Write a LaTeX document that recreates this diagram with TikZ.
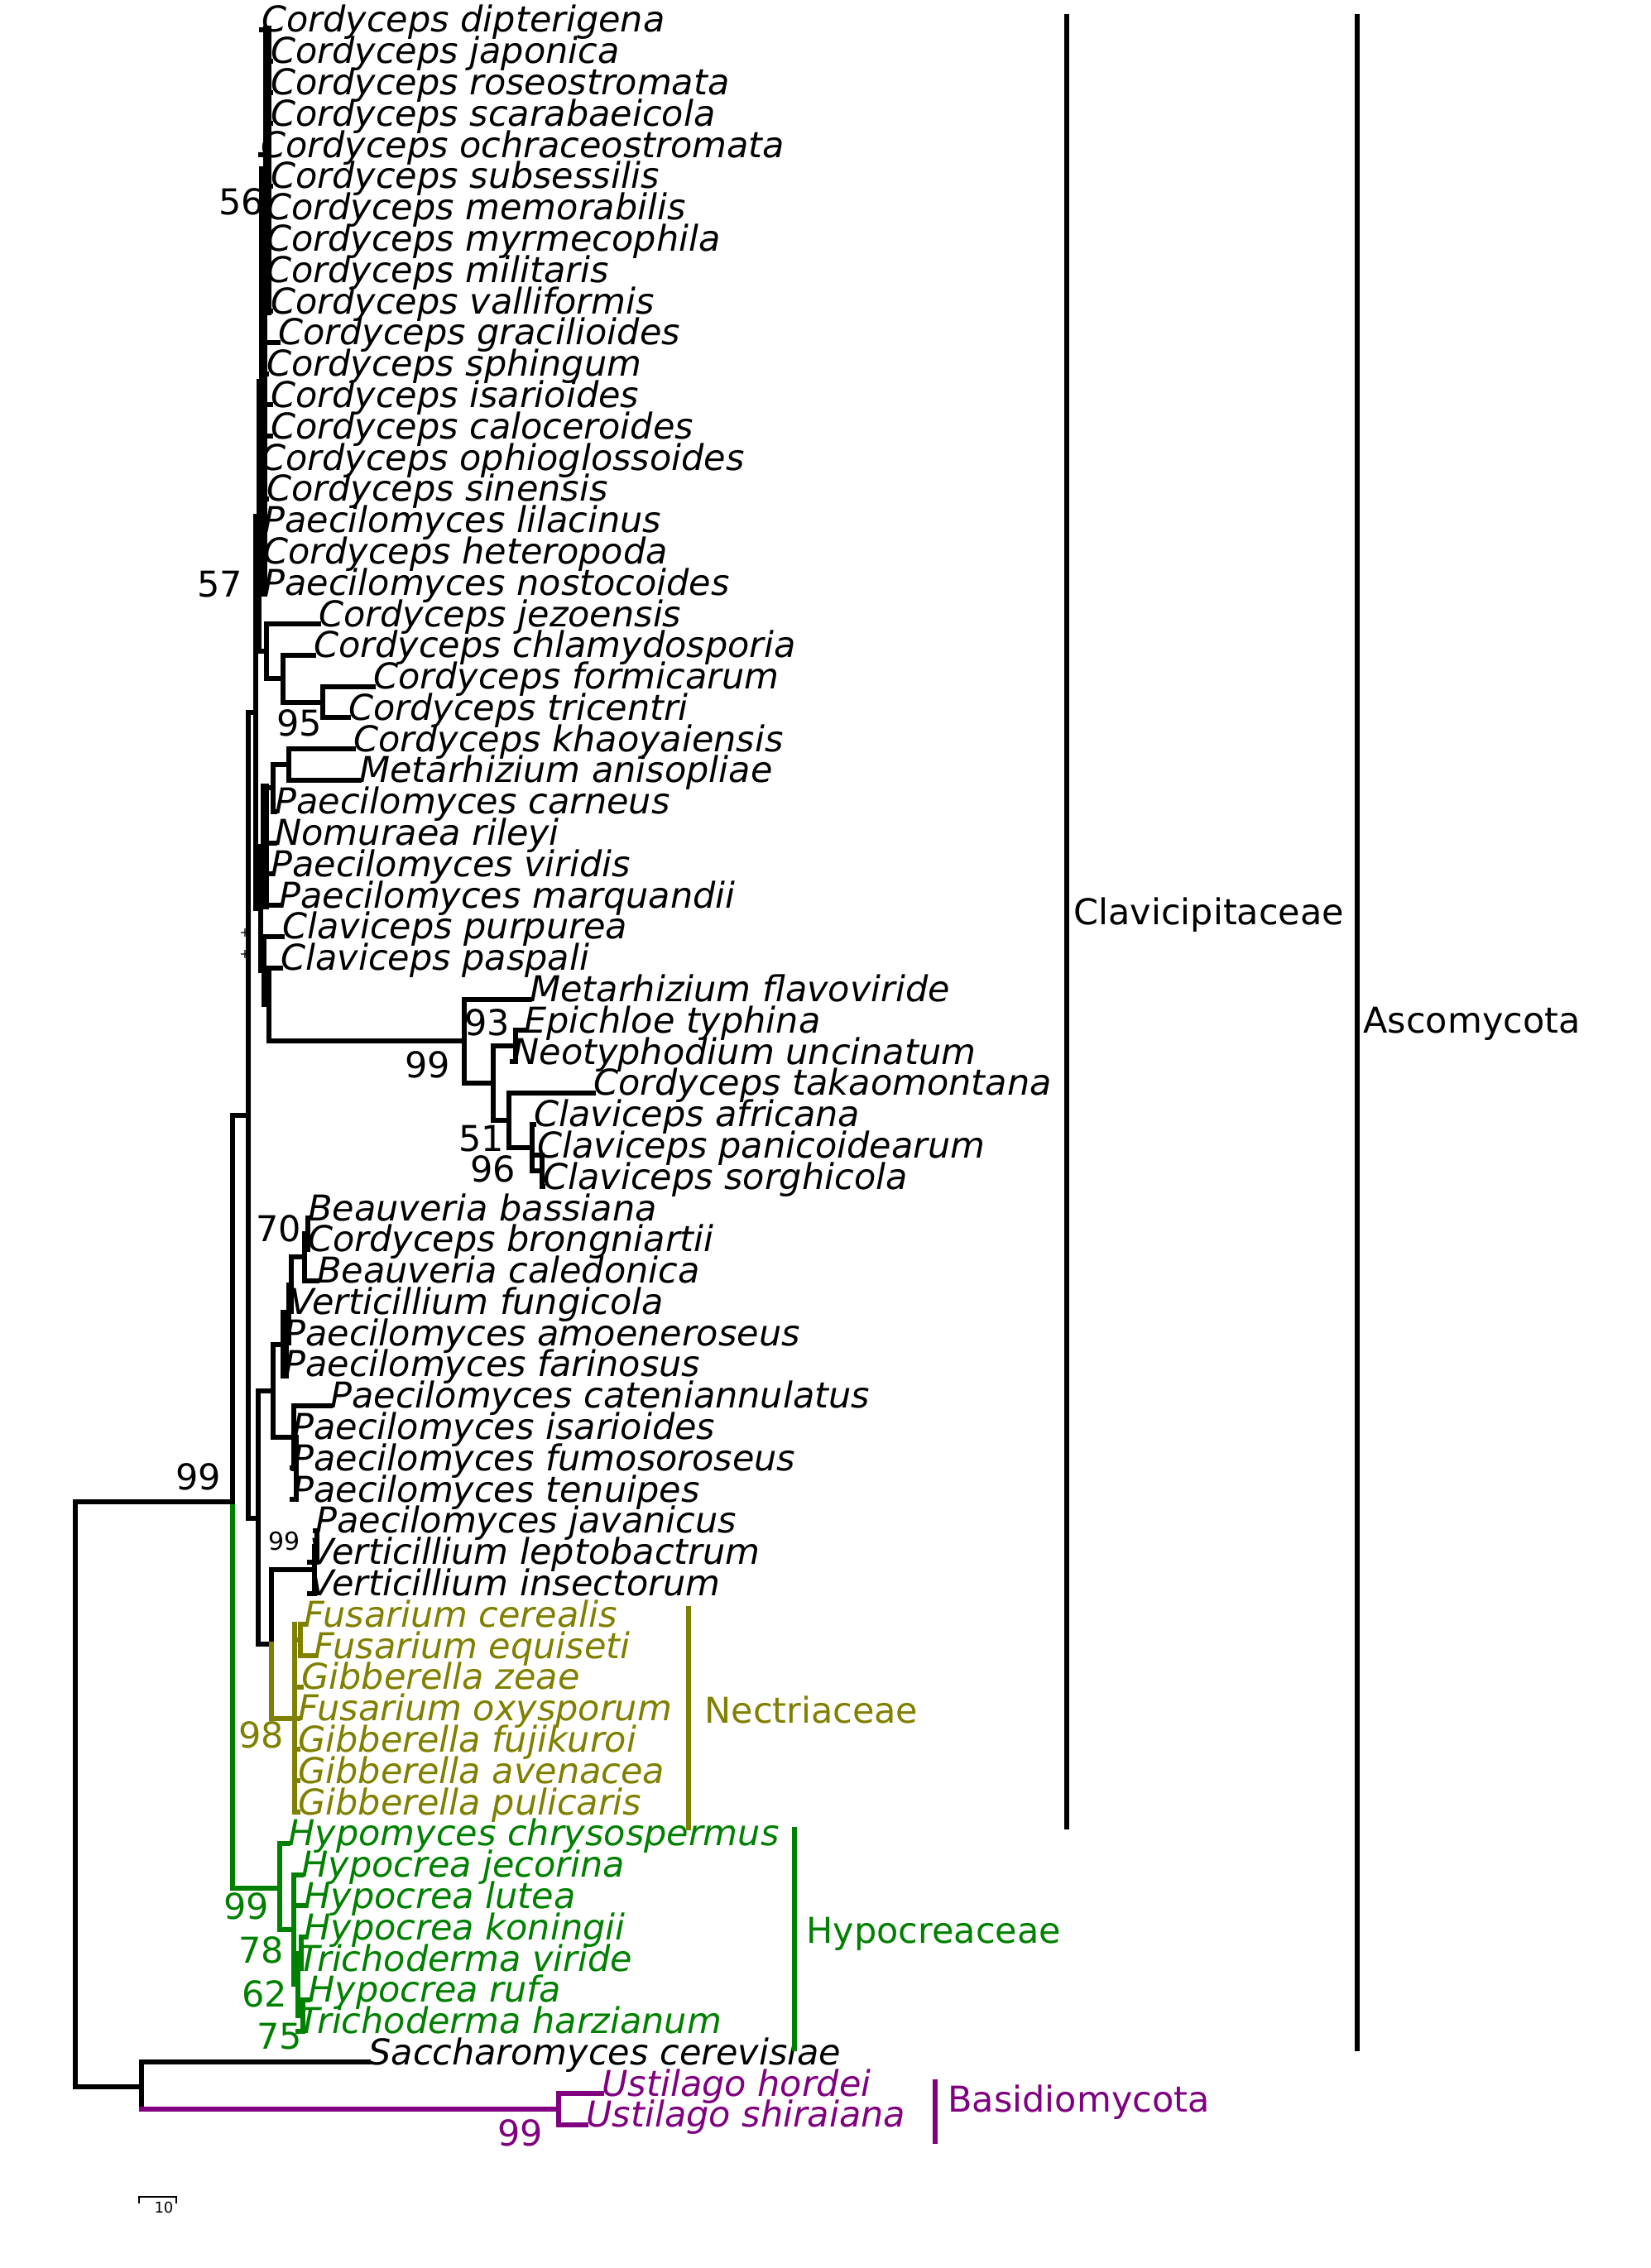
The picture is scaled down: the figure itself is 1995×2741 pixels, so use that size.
\documentclass[tikz,border=0pt]{standalone}
\usepackage{fontspec}
\setmainfont{DejaVu Sans}
\definecolor{olivec}{RGB}{128,128,0}
\definecolor{greenc}{RGB}{0,128,0}
\definecolor{purplec}{RGB}{128,0,128}
\newcommand{\edg}[3][black]{\draw[ln,#1] (#2 |- #3) -- (#3);}
\newcommand{\vln}[4][black]{\draw[ln,#1] (#2 |- #3) -- (#2 |- #4);}
\begin{document}
\begin{tikzpicture}[x=0.5pt,y=-0.5pt,
  ln/.style={line width=3pt,line cap=rect},
  heavy/.style={line width=5pt},
  brk/.style={line width=3.2pt},
  taxon/.style={anchor=base west,inner sep=0pt,font=\fontsize{21.5}{24}\selectfont\itshape,yshift=-1.5pt},
  boot/.style={inner sep=0pt,font=\fontsize{21.5}{24}\selectfont},
  smallboot/.style={inner sep=0pt,font=\fontsize{15}{16}\selectfont},
  clade/.style={anchor=base west,inner sep=0pt,font=\fontsize{21.5}{24}\selectfont}]
\useasboundingbox[fill=white] (0,0) rectangle (1995,2741);

% ---------- leaves ----------
\foreach \i/\tx/\nm/\cl in {
1/316/Cordyceps dipterigena/black,
2/327/Cordyceps japonica/black,
3/327/Cordyceps roseostromata/black,
4/327/Cordyceps scarabaeicola/black,
5/315/Cordyceps ochraceostromata/black,
6/327/Cordyceps subsessilis/black,
7/322/Cordyceps memorabilis/black,
8/322/Cordyceps myrmecophila/black,
9/322/Cordyceps militaris/black,
10/327/Cordyceps valliformis/black,
11/336/Cordyceps gracilioides/black,
12/322/Cordyceps sphingum/black,
13/327/Cordyceps isarioides/black,
14/327/Cordyceps caloceroides/black,
15/315/Cordyceps ophioglossoides/black,
16/322/Cordyceps sinensis/black,
17/318/Paecilomyces lilacinus/black,
18/318/Cordyceps heteropoda/black,
19/318/Paecilomyces nostocoides/black,
20/385/Cordyceps jezoensis/black,
21/379/Cordyceps chlamydosporia/black,
22/451/Cordyceps formicarum/black,
23/421/Cordyceps tricentri/black,
24/427/Cordyceps khaoyaiensis/black,
25/434/Metarhizium anisopliae/black,
26/332/Paecilomyces carneus/black,
27/332/Nomuraea rileyi/black,
28/327/Paecilomyces viridis/black,
29/337/Paecilomyces marquandii/black,
30/341/Claviceps purpurea/black,
31/339/Claviceps paspali/black,
32/640/Metarhizium flavoviride/black,
33/633/Epichloe typhina/black,
34/619/Neotyphodium uncinatum/black,
35/717/Cordyceps takaomontana/black,
36/645/Claviceps africana/black,
37/649/Claviceps panicoidearum/black,
38/656/Claviceps sorghicola/black,
39/372/Beauveria bassiana/black,
40/372/Cordyceps brongniartii/black,
41/383/Beauveria caledonica/black,
42/350/Verticillium fungicola/black,
43/343/Paecilomyces amoeneroseus/black,
44/343/Paecilomyces farinosus/black,
45/399/Paecilomyces cateniannulatus/black,
46/353/Paecilomyces isarioides/black,
47/353/Paecilomyces fumosoroseus/black,
48/353/Paecilomyces tenuipes/black,
49/381/Paecilomyces javanicus/black,
50/374/Verticillium leptobactrum/black,
51/374/Verticillium insectorum/black,
52/367/Fusarium cerealis/olivec,
53/379/Fusarium equiseti/olivec,
54/364/Gibberella zeae/olivec,
55/360/Fusarium oxysporum/olivec,
56/360/Gibberella fujikuroi/olivec,
57/360/Gibberella avenacea/olivec,
58/360/Gibberella pulicaris/olivec,
59/348/Hypomyces chrysospermus/greenc,
60/364/Hypocrea jecorina/greenc,
61/367/Hypocrea lutea/greenc,
62/367/Hypocrea koningii/greenc,
63/360/Trichoderma viride/greenc,
64/372/Hypocrea rufa/greenc,
65/360/Trichoderma harzianum/greenc,
66/445/Saccharomyces cerevisiae/black,
67/727/Ustilago hordei/purplec,
68/708/Ustilago shiraiana/purplec}
{\coordinate (t\i) at (\tx,{36+(\i-1)*37.79});
 \node[taxon,text=\cl] (n\i) at (t\i) {\nm};}

% ---------- internal nodes ----------
\coordinate (Ta) at (323,206);
\coordinate (T) at (318,461);
\coordinate (FT) at (390,849);
\coordinate (C) at (342,820);
\coordinate (J) at (322,787);
\coordinate (A) at (313,624);
\coordinate (K) at (309,861);
\coordinate (KM) at (349,924);
\coordinate (X1) at (330,952);
\coordinate (X2) at (320,1023);
\coordinate (PS) at (655,1415);
\coordinate (CS) at (643,1387);
\coordinate (CL) at (615,1354);
\coordinate (ET) at (623,1264);
\coordinate (FL1) at (596,1309);
\coordinate (FL0) at (561,1258);
\coordinate (CP1) at (325,1214);
\coordinate (CP2) at (319,1173);
\coordinate (X3) at (315,1098);
\coordinate (P) at (300,1348);
\coordinate (BB70) at (372,1491);
\coordinate (BB) at (368,1519);
\coordinate (V1) at (352,1553);
\coordinate (V2a) at (349,1588);
\coordinate (V2) at (344,1625);
\coordinate (IS2) at (358,1775);
\coordinate (IS) at (355,1737);
\coordinate (V3) at (330,1681);
\coordinate (JV99) at (383,1869);
\coordinate (JV) at (380,1897);
\coordinate (NEa) at (363,1982);
\coordinate (NE) at (356,2077);
\coordinate (W) at (328,1987);
\coordinate (V4) at (312,1835);
\coordinate (H3) at (366,2436);
\coordinate (H2a) at (364,2361);
\coordinate (H2) at (360,2398);
\coordinate (H1) at (355,2332);
\coordinate (H0) at (338,2282);
\coordinate (Nasc) at (281,1815);
\coordinate (U) at (675,2549);
\coordinate (Y) at (171,2522);
\coordinate (R) at (91,2168);

% ---------- top Cordyceps clade ----------
\vln[heavy]{Ta}{t1}{t10}
\foreach \i in {1,...,10} {\edg{Ta}{t\i}}
\vln[heavy]{T}{Ta}{t19}
\edg{T}{Ta}
\foreach \i in {11,...,19} {\edg{T}{t\i}}
\vln{FT}{t22}{t23} \edg{FT}{t22} \edg{FT}{t23}
\vln{C}{t21}{FT} \edg{C}{t21} \edg{C}{FT}
\vln{J}{t20}{C} \edg{J}{t20} \edg{J}{C}
\vln{A}{T}{J} \edg{A}{T} \edg{A}{J}
\vln{K}{A}{X3} \edg{K}{A} \edg{K}{X3}
% ---------- middle ----------
\vln{KM}{t24}{t25} \edg{KM}{t24} \edg{KM}{t25}
\vln{X1}{KM}{t26} \edg{X1}{KM} \edg{X1}{t26}
\vln[heavy]{X2}{X1}{t29} \edg{X2}{X1} \edg{X2}{t27} \edg{X2}{t28} \edg{X2}{t29}
\vln{PS}{t37}{t38} \edg{PS}{t37} \edg{PS}{t38}
\vln{CS}{t36}{PS} \edg{CS}{t36} \edg{CS}{PS}
\vln{CL}{t35}{CS} \edg{CL}{t35} \edg{CL}{CS}
\vln{ET}{t33}{t34} \edg{ET}{t33} \edg{ET}{t34}
\vln{FL1}{ET}{CL} \edg{FL1}{ET} \edg{FL1}{CL}
\vln{FL0}{t32}{FL1} \edg{FL0}{t32} \edg{FL0}{FL1}
\vln{CP1}{t31}{FL0} \edg{CP1}{t31} \edg{CP1}{FL0}
\vln{CP2}{t30}{CP1} \edg{CP2}{t30} \edg{CP2}{CP1}
\vln{X3}{X2}{CP2} \edg{X3}{X2} \edg{X3}{CP2}
\vln{P}{K}{V4} \edg{P}{K} \edg{P}{V4}
% ---------- lower Clavicipitaceae ----------
\vln{BB70}{t39}{t40} \edg{BB70}{t39} \edg{BB70}{t40}
\vln{BB}{BB70}{t41} \edg{BB}{BB70} \edg{BB}{t41}
\vln{V1}{BB}{t42} \edg{V1}{BB} \edg{V1}{t42}
\vln{V2a}{V1}{t43} \edg{V2a}{V1} \edg{V2a}{t43}
\vln[heavy]{V2}{V2a}{t44} \edg{V2}{V2a} \edg{V2}{t44}
\vln{IS2}{t46}{t48} \edg{IS2}{t46} \edg{IS2}{t47} \edg{IS2}{t48}
\vln{IS}{t45}{IS2} \edg{IS}{t45} \edg{IS}{IS2}
\vln{V3}{V2}{IS} \edg{V3}{V2} \edg{V3}{IS}
\vln{JV99}{t49}{t50} \edg{JV99}{t49} \edg{JV99}{t50}
\vln{JV}{JV99}{t51} \edg{JV}{JV99} \edg{JV}{t51}
\vln{V4}{V3}{W} \edg{V4}{V3} \edg{V4}{W}
\vln{W}{JV}{W} \edg{W}{JV}
% ---------- Nectriaceae ----------
\vln[olivec]{W}{W}{NE} \edg[olivec]{W}{NE}
\vln[olivec]{NE}{t52}{t58} \edg[olivec]{NE}{NEa}
\foreach \i in {54,...,58} {\edg[olivec]{NE}{t\i}}
\vln[olivec]{NEa}{t52}{t53} \edg[olivec]{NEa}{t52} \edg[olivec]{NEa}{t53}
% ---------- Hypocreaceae ----------
\vln[greenc]{H3}{t64}{t65} \edg[greenc]{H3}{t64} \edg[greenc]{H3}{t65}
\vln[greenc]{H2a}{t62}{t63} \edg[greenc]{H2a}{t62} \edg[greenc]{H2a}{t63}
\vln[greenc]{H2}{H2a}{H3} \edg[greenc]{H2}{H2a} \edg[greenc]{H2}{H3}
\vln[greenc]{H1}{t60}{H2} \edg[greenc]{H1}{t60} \edg[greenc]{H1}{t61} \edg[greenc]{H1}{H2}
\vln[greenc]{H0}{t59}{H1} \edg[greenc]{H0}{t59} \edg[greenc]{H0}{H1}
\vln{Nasc}{P}{Nasc} \edg{Nasc}{P}
\vln[greenc]{Nasc}{Nasc}{H0} \edg[greenc]{Nasc}{H0}
% ---------- root & outgroups ----------
\vln[purplec]{U}{t67}{t68} \edg[purplec]{U}{t67} \edg[purplec]{U}{t68}
\vln{Y}{t66}{U} \edg{Y}{t66} \edg[purplec]{Y}{U}
\vln{R}{Nasc}{Y} \edg{R}{Nasc} \edg{R}{Y}

% ---------- support values ----------
\node[boot] (b56) at (292,244) {56};
\node[boot] (b57) at (266,706) {57};
\node[boot] (b95) at (362,874) {95};
\node[boot] (b93) at (589,1236) {93};
\node[boot] (b99a) at (517,1287) {99};
\node[boot] (b51) at (582,1376) {51};
\node[boot] (b96) at (596,1413) {96};
\node[boot] (b70) at (337,1485) {70};
\node[smallboot] (b99b) at (344,1863) {99};
\node[boot] (b99c) at (240,1785) {99};
\node[boot,text=olivec] (b98) at (316,2097) {98};
\node[boot,text=greenc] (b99d) at (298,2304) {99};
\node[boot,text=greenc] (b78) at (316,2357) {78};
\node[boot,text=greenc] (b62) at (320,2410) {62};
\node[boot,text=greenc] (b75) at (338,2461) {75};
\node[boot,text=purplec] (b99e) at (629,2578) {99};
\node[inner sep=0pt,font=\fontsize{8}{8}\selectfont] (pa) at (296,1127) {+};
\node[inner sep=0pt,font=\fontsize{8}{8}\selectfont] (pb) at (296,1153) {+};

% ---------- clade brackets ----------
\coordinate (cla1) at (1289,17); \coordinate (cla2) at (1289,2211);
\draw[brk] (cla1) -- (cla2);
\node[clade] (lcla) at (1297,1117) {Clavicipitaceae};
\coordinate (asc1) at (1640,17); \coordinate (asc2) at (1640,2479);
\draw[brk] (asc1) -- (asc2);
\node[clade] (lasc) at (1647,1248) {Ascomycota};
\coordinate (nec1) at (832,1941); \coordinate (nec2) at (832,2212);
\draw[brk,olivec] (nec1) -- (nec2);
\node[clade,text=olivec] (lnec) at (851,2082) {Nectriaceae};
\coordinate (hyp1) at (960,2208); \coordinate (hyp2) at (960,2479);
\draw[brk,greenc] (hyp1) -- (hyp2);
\node[clade,text=greenc] (lhyp) at (974,2348) {Hypocreaceae};
\coordinate (bas1) at (1130,2513); \coordinate (bas2) at (1130,2591);
\draw[brk,purplec] (bas1) -- (bas2);
\node[clade,text=purplec] (lbas) at (1145,2552) {Basidiomycota};

% ---------- scale bar ----------
\coordinate (sb1) at (168,2655); \coordinate (sb2) at (213,2655);
\draw[line width=1.2pt] ([yshift=-4pt]sb1) -- (sb1) -- (sb2) -- ([yshift=-4pt]sb2);
\node[inner sep=0pt,font=\fontsize{9}{9}\selectfont] (sbl) at (198,2668) {10};
\end{tikzpicture}
\end{document}
